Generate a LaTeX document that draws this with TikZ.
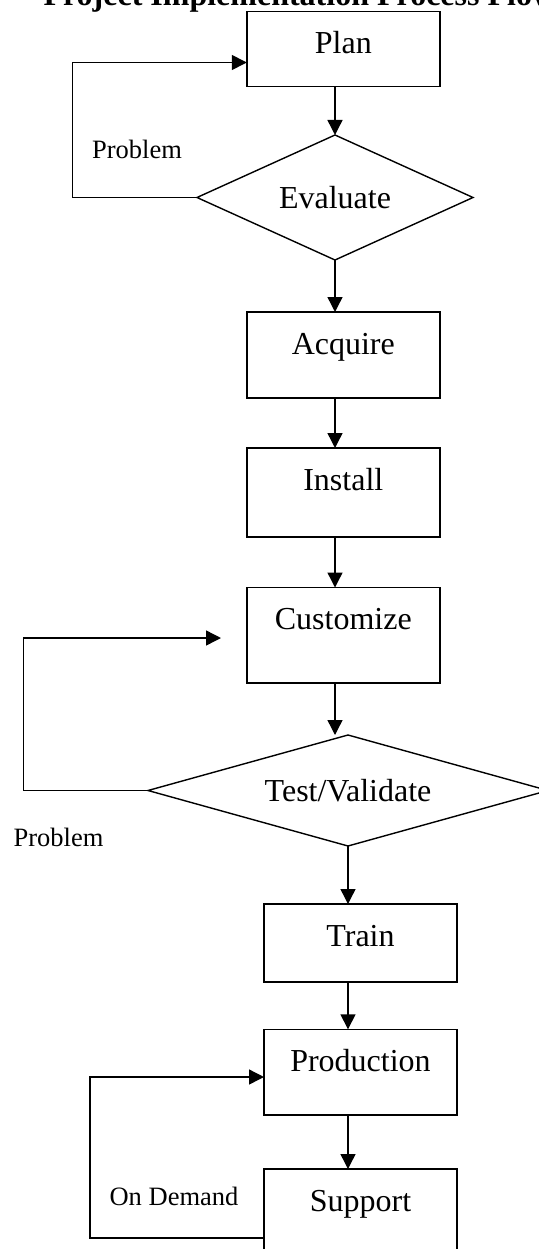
\documentclass[tikz,border=0pt]{standalone}
\usepackage{fontspec}
\setmainfont{Liberation Serif}
\usetikzlibrary{shapes.geometric,arrows.meta}

\begin{document}
\begin{tikzpicture}[x=1pt,y=-1pt,
  stepbox/.style={draw,line width=1.4pt,outer sep=0pt,inner xsep=0pt,inner ysep=0pt,
    minimum width=193pt,text height=42pt,anchor=north,font=\fontsize{32}{38}\selectfont},
  decision/.style={draw,shape=diamond,line width=1.4pt,outer sep=0pt,inner sep=0pt,
    font=\fontsize{32}{38}\selectfont},
  flow/.style={line width=1.4pt,-{Triangle[length=15pt,width=15pt]}},
  note/.style={font=\fontsize{26.5}{32}\selectfont}]
\useasboundingbox (0,0) rectangle (538,1249);
\node[anchor=base west,font=\fontsize{32}{38}\selectfont\bfseries] (title) at (40,6) {Project Implementation Process Flow};

\node[stepbox,text depth=33pt] (plan) at (343.3,11.3) {Plan};
\node[decision,aspect=2.2,minimum width=276pt,minimum height=125pt] (eval) at (335,197.5) {Evaluate};
\node[stepbox,text depth=44pt] (acq) at (343.3,312) {Acquire};
\node[stepbox,text depth=47pt] (inst) at (343.3,448) {Install};
\node[stepbox,text depth=53.5pt] (cust) at (343.3,587.5) {Customize};
\node[decision,aspect=3.6,minimum width=400pt,minimum height=111pt] (test) at (348,790.5) {Test/Validate};
\node[stepbox,text depth=36pt] (train) at (360.5,904) {Train};
\node[stepbox,text depth=43.7pt] (prod) at (360.5,1029.3) {Production};
\node[stepbox,text depth=58pt] (sup) at (360.5,1169) {Support};

\node[note] (prob1) at (137,149) {Problem};
\node[note] (prob2) at (58.5,837) {Problem};
\node[note] (ondemand) at (174,1196) {On Demand};

\draw[flow] (plan.south -| eval.north) -- (eval.north);
\draw[flow] (eval.south) -- (eval.south |- acq.north);
\draw[flow] (acq.south -| eval.south) -- (eval.south |- inst.north);
\draw[flow] (inst.south -| eval.south) -- (eval.south |- cust.north);
\draw[flow] (cust.south -| eval.south) -- (eval.south |- test.north);
\draw[flow] (test.south) -- (test.south |- train.north);
\draw[flow] (train.south -| test.south) -- (test.south |- prod.north);
\draw[flow] (prod.south -| test.south) -- (test.south |- sup.north);

% loops back
\coordinate (loopa) at (72.4,62.5);
\draw[flow] (eval.west) -| (loopa) -- (loopa -| plan.west);
\coordinate (loopb) at (23.3,638);
\coordinate (loopbend) at (221,638);
\draw[flow] (test.west) -| (loopb) -- (loopbend);
\coordinate (loopc) at (90,1077);
\draw[flow] ([yshift=-69pt]sup.north west) -| (loopc) -- (loopc -| prod.west);
\end{tikzpicture}
\end{document}
